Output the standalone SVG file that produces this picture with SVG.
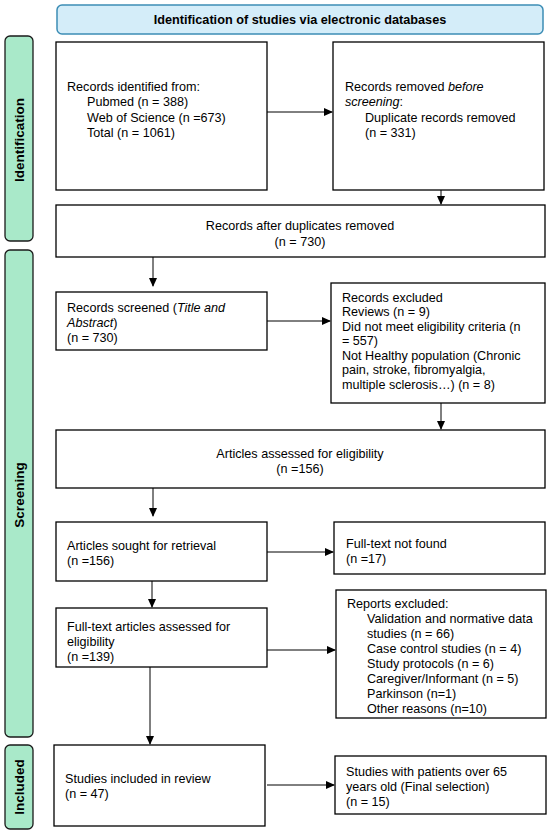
<svg xmlns="http://www.w3.org/2000/svg" width="550" height="833" viewBox="0 0 550 833">
<style>
.box{fill:#fff;stroke:#000;stroke-width:1.3}
.side{fill:#a9e9c9;stroke:#1a1a1a;stroke-width:1.3}
.hdr{fill:#d4edf9;stroke:#3c8db5;stroke-width:1.5}
text{font-family:"Liberation Sans",Arial,sans-serif;font-size:12.6px;fill:#000}
.b{font-weight:bold}
.hd{font-size:12.7px}
.sd{font-size:13.5px}
.c{text-anchor:middle}
.con line{stroke:#000;stroke-width:1}
</style>
<defs>
<marker id="ah" markerWidth="9" markerHeight="8" refX="8" refY="4" orient="auto" markerUnits="userSpaceOnUse">
<path d="M0,0 L9,4 L0,8 Z" fill="#000"/>
</marker>
</defs>
<g id="header"><rect class="hdr" x="57" y="5" width="486" height="29" rx="5"/><text class="b c hd" x="300" y="24">Identification of studies via electronic databases</text></g>
<g id="side-identification"><rect class="side" x="5" y="36" width="28" height="205" rx="5"/><text class="b c sd" transform="translate(24,140) rotate(-90)">Identification</text></g>
<g id="side-screening"><rect class="side" x="5" y="250" width="28" height="487" rx="5"/><text class="b c sd" transform="translate(24,495) rotate(-90)">Screening</text></g>
<g id="side-included"><rect class="side" x="5" y="745" width="28" height="84" rx="5"/><text class="b c sd" transform="translate(24,787) rotate(-90)">Included</text></g>

<g id="n1"><rect class="box" x="56" y="42" width="211" height="148"/>
<text x="67" y="91">Records identified from:</text>
<text x="87" y="106">Pubmed (n = 388)</text>
<text x="87" y="121.5">Web of Science (n =673)</text>
<text x="87" y="137">Total (n = 1061)</text></g>
<g id="n2"><rect class="box" x="333" y="42" width="211" height="148"/>
<text x="345" y="91">Records removed <tspan font-style="italic">before</tspan></text>
<text x="345" y="106"><tspan font-style="italic">screening</tspan>:</text>
<text x="365" y="121.5">Duplicate records removed</text>
<text x="365" y="137">(n = 331)</text></g>
<g id="n3"><rect class="box" x="56" y="205" width="489" height="52"/>
<text class="c" x="300" y="229.5">Records after duplicates removed</text>
<text class="c" x="300" y="246">(n = 730)</text></g>
<g id="n4"><rect class="box" x="56" y="292" width="211" height="58"/>
<text x="67" y="311.5">Records screened (<tspan font-style="italic">Title and</tspan></text>
<text x="67" y="326.5"><tspan font-style="italic">Abstract</tspan>)</text>
<text x="67" y="341.5">(n = 730)</text></g>
<g id="n5"><rect class="box" x="331" y="283" width="214" height="120"/>
<text x="342" y="301.5">Records excluded</text>
<text x="342" y="316">Reviews (n = 9)</text>
<text x="342" y="330.5">Did not meet eligibility criteria (n</text>
<text x="342" y="345">= 557)</text>
<text x="342" y="359.5">Not Healthy population (Chronic</text>
<text x="342" y="374">pain, stroke, fibromyalgia,</text>
<text x="342" y="388.5">multiple sclerosis…) (n = 8)</text></g>
<g id="n6"><rect class="box" x="56" y="430" width="489" height="58"/>
<text class="c" x="300" y="457.5">Articles assessed for eligibility</text>
<text class="c" x="300" y="473">(n =156)</text></g>
<g id="n7"><rect class="box" x="56" y="522" width="211" height="59"/>
<text x="67" y="549.5">Articles sought for retrieval</text>
<text x="67" y="564.5">(n =156)</text></g>
<g id="n8"><rect class="box" x="334" y="522" width="211" height="52"/>
<text x="346" y="547.5">Full-text not found</text>
<text x="346" y="562.5">(n =17)</text></g>
<g id="n9"><rect class="box" x="56" y="608" width="211" height="59"/>
<text x="67" y="631">Full-text articles assessed for</text>
<text x="67" y="646">eligibility</text>
<text x="67" y="661">(n =139)</text></g>
<g id="n10"><rect class="box" x="336" y="590" width="210" height="128"/>
<text x="347" y="607.5">Reports excluded:</text>
<text x="367" y="622.5">Validation and normative data</text>
<text x="367" y="637.5">studies (n = 66)</text>
<text x="367" y="652.5">Case control studies (n = 4)</text>
<text x="367" y="667.5">Study protocols (n = 6)</text>
<text x="367" y="682.5">Caregiver/Informant (n = 5)</text>
<text x="367" y="697.5">Parkinson (n=1)</text>
<text x="367" y="712.5">Other reasons (n=10)</text></g>
<g id="n11"><rect class="box" x="54" y="745" width="211" height="81"/>
<text x="65" y="782.5">Studies included in review</text>
<text x="65" y="797.5">(n = 47)</text></g>
<g id="n12"><rect class="box" x="335" y="756" width="211" height="58"/>
<text x="346" y="775.5">Studies with patients over 65</text>
<text x="346" y="790.5">years old (Final selection)</text>
<text x="346" y="805.5">(n = 15)</text></g>

<g id="connectors" class="con">
<line x1="267" y1="112" x2="332" y2="112" marker-end="url(#ah)"/>
<line x1="441" y1="190" x2="441" y2="204" marker-end="url(#ah)"/>
<line x1="153" y1="257" x2="153" y2="286" marker-end="url(#ah)"/>
<line x1="267" y1="321" x2="330" y2="321" marker-end="url(#ah)"/>
<line x1="441" y1="403" x2="441" y2="429" marker-end="url(#ah)"/>
<line x1="153" y1="488" x2="153" y2="516" marker-end="url(#ah)"/>
<line x1="267" y1="552" x2="333" y2="552" marker-end="url(#ah)"/>
<line x1="152" y1="581" x2="152" y2="607" marker-end="url(#ah)"/>
<line x1="267" y1="650" x2="335" y2="650" marker-end="url(#ah)"/>
<line x1="150" y1="667" x2="150" y2="744" marker-end="url(#ah)"/>
<line x1="267" y1="785" x2="334" y2="785" marker-end="url(#ah)"/>
</g>
</svg>
